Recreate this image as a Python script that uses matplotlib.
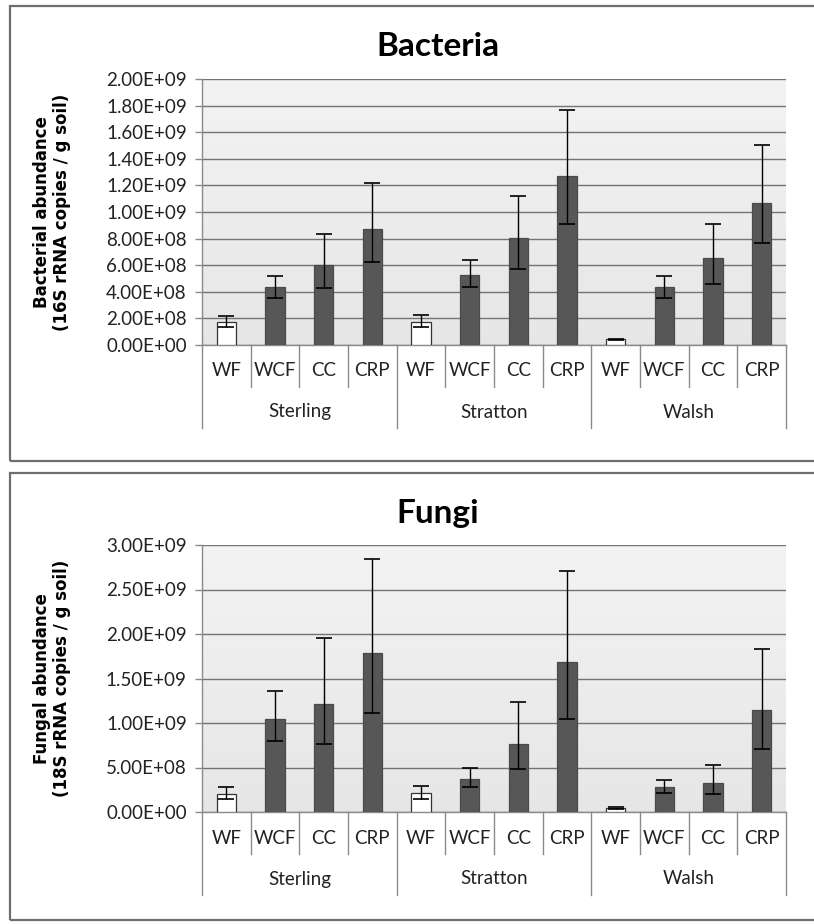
"""
Bacterial and fungal abundance (qPCR) per crop system and site, two stacked Excel-style panels.
"""

import matplotlib

matplotlib.use("Agg")
import matplotlib.pyplot as plt
import numpy as np
from matplotlib.patches import Rectangle
from matplotlib.ticker import FuncFormatter
from matplotlib.transforms import blended_transform_factory

SITES = ["Sterling", "Stratton", "Walsh"]
SYSTEMS = ["WF", "WCF", "CC", "CRP"]

# means, then lower / upper error bar ends (copies / g soil)
BACT_MEAN = [1.75e8, 4.33e8, 6.0e8, 8.7e8,
             1.75e8, 5.3e8, 8.05e8, 1.267e9,
             4.2e7, 4.33e8, 6.52e8, 1.07e9]
BACT_LOW = [1.37e8, 3.57e8, 4.3e8, 6.25e8,
            1.37e8, 4.37e8, 5.75e8, 9.07e8,
            3.7e7, 3.57e8, 4.62e8, 7.65e8]
BACT_HIGH = [2.2e8, 5.22e8, 8.35e8, 1.217e9,
             2.27e8, 6.42e8, 1.122e9, 1.767e9,
             4.7e7, 5.22e8, 9.1e8, 1.5e9]

FUNG_MEAN = [2.06e8, 1.042e9, 1.219e9, 1.781e9,
             2.17e8, 3.75e8, 7.69e8, 1.691e9,
             4.5e7, 2.85e8, 3.3e8, 1.144e9]
FUNG_LOW = [1.46e8, 7.99e8, 7.61e8, 1.11e9,
            1.46e8, 2.8e8, 4.87e8, 1.05e9,
            3.8e7, 2.1e8, 1.99e8, 7.12e8]
FUNG_HIGH = [2.81e8, 1.361e9, 1.95e9, 2.846e9,
             2.92e8, 4.95e8, 1.234e9, 2.703e9,
             5.2e7, 3.64e8, 5.32e8, 1.837e9]

BACT_TICKS = np.arange(0, 2.01e9, 2e8)
FUNG_TICKS = np.arange(0, 3.01e9, 5e8)

FIG_W, FIG_H = 814, 924
FONT = ["Lato", "DejaVu Sans"]
TXT = "#222222"


def panel(fig, rect_px, title, title_y, ylabel, mean, low, high, ticks):
    """rect_px = (left, top, right, bottom) of the plot area in pixels."""
    left, top, right, bottom = rect_px
    ax = fig.add_axes([left / FIG_W, 1 - bottom / FIG_H,
                       (right - left) / FIG_W, (bottom - top) / FIG_H])
    h_px = bottom - top

    # plot-area gradient
    grad = np.linspace(0.95, 0.90, 64).reshape(-1, 1)
    ax.imshow(grad, cmap="gray", vmin=0, vmax=1, aspect="auto",
              extent=(-0.5, 11.5, 0, ticks[-1]), origin="upper", zorder=0)

    x = np.arange(len(mean))
    mean = np.array(mean)
    err = [mean - np.array(low), np.array(high) - mean]
    colors = ["white" if i % 4 == 0 else "#575757" for i in x]
    edges = ["#333333" if i % 4 == 0 else "#4a4a4a" for i in x]
    ax.bar(x, mean, width=0.4, color=colors, edgecolor=edges, linewidth=0.9, zorder=3)
    ax.errorbar(x, mean, yerr=err, fmt="none", ecolor="black", elinewidth=1.0,
                capsize=5.5, capthick=1.2, zorder=4)

    ax.set_xlim(-0.5, 11.5)
    ax.set_ylim(0, ticks[-1])
    ax.set_yticks(ticks)
    ax.yaxis.set_major_formatter(FuncFormatter(lambda v, _: f"{v:.2E}"))
    ax.yaxis.grid(True, color="#737373", linewidth=1.0, zorder=1)
    ax.set_axisbelow(True)
    ax.set_xticks([])
    ax.tick_params(axis="y", length=5, width=1, color="#8a8a8a", pad=6,
                   labelsize=13.5, labelcolor=TXT)
    for lab in ax.get_yticklabels():
        lab.set_family(FONT)
    for side in ("top", "right"):
        ax.spines[side].set_visible(False)
    for side in ("left", "bottom"):
        ax.spines[side].set_color("#8a8a8a")
        ax.spines[side].set_linewidth(1.0)

    # category separators and labels below the axis
    tr = blended_transform_factory(ax.transData, ax.transAxes)
    for b in range(13):
        depth = 83 if b % 4 == 0 else 42
        ax.plot([b - 0.5, b - 0.5], [0, -depth / h_px], transform=tr,
                color="#8a8a8a", lw=1.0, clip_on=False)
    for i in x:
        ax.text(i, -26 / h_px, SYSTEMS[i % 4], transform=tr, ha="center",
                va="center", fontsize=13.5, color=TXT, family=FONT)
    for s, site in enumerate(SITES):
        ax.text(4 * s + 1.5, -67 / h_px, site, transform=tr, ha="center",
                va="center", fontsize=13.5, color=TXT, family=FONT)

    fig.text(438 / FIG_W, 1 - title_y / FIG_H, title, ha="center", va="center",
             fontsize=24, fontweight="bold", color="black", family=FONT)
    fig.text(52 / FIG_W, 1 - (top + bottom) / 2 / FIG_H, ylabel, rotation=90,
             ha="center", va="center", fontsize=12, fontweight="bold",
             color="black", linespacing=1.2, family=["DejaVu Sans"])
    return ax


def main():
    fig = plt.figure(figsize=(FIG_W / 100, FIG_H / 100), dpi=100)
    fig.patch.set_facecolor("white")

    # panel frames
    for y0, y1 in ((6, 461), (473, 920)):
        fig.add_artist(Rectangle((9.5 / FIG_W, 1 - y1 / FIG_H), 1.0,
                                 (y1 - y0) / FIG_H, transform=fig.transFigure,
                                 facecolor="none", edgecolor="#6e6e6e", lw=1.6))

    panel(fig, (202, 79, 786, 345), "Bacteria", 46,
          "Bacterial abundance\n(16S rRNA copies / g soil)",
          BACT_MEAN, BACT_LOW, BACT_HIGH, BACT_TICKS)
    panel(fig, (202, 545, 786, 812), "Fungi", 514,
          "Fungal abundance\n(18S rRNA copies / g soil)",
          FUNG_MEAN, FUNG_LOW, FUNG_HIGH, FUNG_TICKS)

    fig.savefig("out.png", dpi=100)
    plt.close(fig)


if __name__ == "__main__":
    main()
